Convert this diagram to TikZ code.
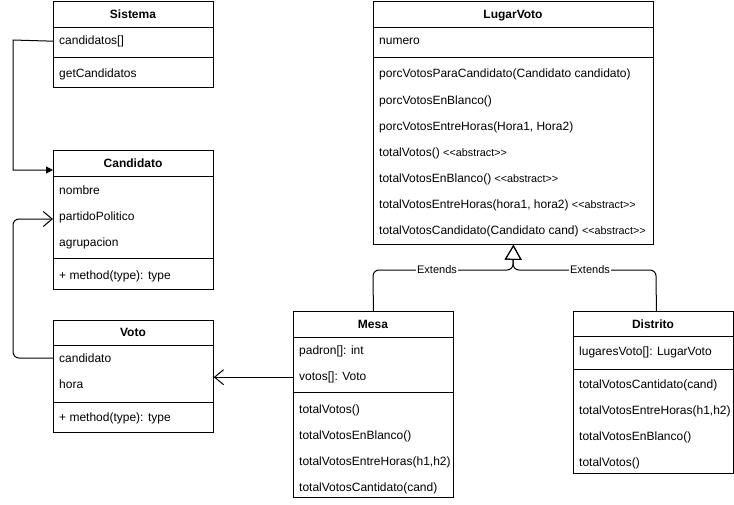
\documentclass[tikz,border=0pt]{standalone}
\usepackage{fontspec}
\setmainfont{Liberation Sans}
\usetikzlibrary{arrows.meta}
\newcommand\myabs{{\fontsize{10.8}{12}\selectfont\mbox{\textless}\mbox{\textless}abstract\mbox{\textgreater}\mbox{\textgreater}}}
\begin{document}
\begin{tikzpicture}[x=1pt,y=-1pt,
  cls/.style={draw, line width=0.8pt, inner sep=0, anchor=north west, minimum width=#1},
  hdr/.style={font=\fontsize{12}{14}\selectfont\bfseries, anchor=base, inner sep=0, yshift=-4.3pt},
  row/.style={font=\fontsize{12}{14}\selectfont, anchor=base west, inner sep=0, yshift=-4.3pt},
  sepl/.style={line width=0.8pt},
  conn/.style={line width=1pt},
  openarr/.style={-{Straight Barb[length=9pt,width=15pt]}},
  lbl/.style={font=\fontsize{11}{13}\selectfont, fill=white, inner sep=1pt}
]
\useasboundingbox (0,0) rectangle (734,504);

% Sistema
\node[cls=160pt, minimum height=86pt] (sistema) at (53,1) {};
\node[hdr] (sish) at (133,14) {Sistema};
\draw[sepl] (53,27) -- (213,27);
\node[row] (s1) at (59,40) {candidatos[]};
\draw[sepl] (53,57) -- (213,57);
\node[row] (s2) at (59,73) {getCandidatos};

% Candidato
\node[cls=160pt, minimum height=139pt] (candidato) at (53,150) {};
\node[hdr] (candh) at (133,163) {Candidato};
\draw[sepl] (53,176) -- (213,176);
\node[row] (c1) at (59,190) {nombre};
\node[row] (c2) at (59,216) {partidoPolitico};
\node[row] (c3) at (59,242) {agrupacion};
\draw[sepl] (53,258) -- (213,258);
\node[row] (c4) at (59,275) {+ method(type): type};

% Voto
\node[cls=160pt, minimum height=112pt] (voto) at (53,320) {};
\node[hdr] (votoh) at (133,332) {Voto};
\draw[sepl] (53,345) -- (213,345);
\node[row] (v1) at (59,358) {candidato};
\node[row] (v2) at (59,384) {hora};
\draw[sepl] (53,402) -- (213,402);
\node[row] (v3) at (59,417) {+ method(type): type};

% LugarVoto
\node[cls=280pt, minimum height=243pt] (lugar) at (373,1) {};
\node[hdr] (lugarh) at (513,14) {LugarVoto};
\draw[sepl] (373,27) -- (653,27);
\node[row] (l0) at (379,40) {numero};
\draw[sepl] (373,57) -- (653,57);
\node[row] (l1) at (379,73) {porcVotosParaCandidato(Candidato candidato)};
\node[row] (l2) at (379,100) {porcVotosEnBlanco()};
\node[row] (l3) at (379,126) {porcVotosEntreHoras(Hora1, Hora2)};
\node[row] (l4) at (379,152) {totalVotos() \myabs};
\node[row] (l5) at (379,178) {totalVotosEnBlanco() \myabs};
\node[row] (l6) at (379,204) {totalVotosEntreHoras(hora1, hora2) \myabs};
\node[row] (l7) at (379,230) {totalVotosCandidato(Candidato cand) \myabs};

% Mesa
\node[cls=160pt, minimum height=186pt] (mesa) at (293,311) {};
\node[hdr] (mesah) at (373,324) {Mesa};
\draw[sepl] (293,337) -- (453,337);
\node[row] (m1) at (299,350) {padron[]: int};
\node[row] (m2) at (299,376) {votos[]: Voto};
\draw[sepl] (293,392) -- (453,392);
\node[row] (m3) at (299,409) {totalVotos()};
\node[row] (m4) at (299,435) {totalVotosEnBlanco()};
\node[row] (m5) at (299,461) {totalVotosEntreHoras(h1,h2)};
\node[row] (m6) at (299,487) {totalVotosCantidato(cand)};

% Distrito
\node[cls=160pt, minimum height=162pt] (distrito) at (573,311) {};
\node[hdr] (disth) at (653,324) {Distrito};
\draw[sepl] (573,336) -- (733,336);
\node[row] (d1) at (579,351) {lugaresVoto[]: LugarVoto};
\draw[sepl] (573,369) -- (733,369);
\node[row] (d2) at (579,384) {totalVotosCantidato(cand)};
\node[row] (d3) at (579,410) {totalVotosEntreHoras(h1,h2)};
\node[row] (d4) at (579,436) {totalVotosEnBlanco()};
\node[row] (d5) at (579,462) {totalVotos()};

% Connectors
\draw[conn, -{Triangle[length=7pt,width=7pt]}] (sistema.west |- s1) -- (13,40) -- (13,170) -- ([yshift=-20pt]candidato.north west);
\draw[conn, rounded corners=6pt, openarr] (voto.west |- v1) -- (13,358) -- (13,219) -- ([yshift=-69pt]candidato.north west);
\draw[conn, openarr] (mesa.west |- m2) -- (voto.east |- m2);

\draw[conn, rounded corners=6pt, -{Triangle[open,length=15pt,width=17pt]}] (mesa.north) -- (373,270) -- (513,270) -- (lugar.south);
\draw[conn, rounded corners=6pt, -{Triangle[open,length=15pt,width=17pt]}] ([xshift=3pt]distrito.north) -- (656,270) -- (513,270) -- (lugar.south);
\node[lbl] (ext1) at (437,270) {Extends};
\node[lbl] (ext2) at (590,270) {Extends};
\end{tikzpicture}
\end{document}
